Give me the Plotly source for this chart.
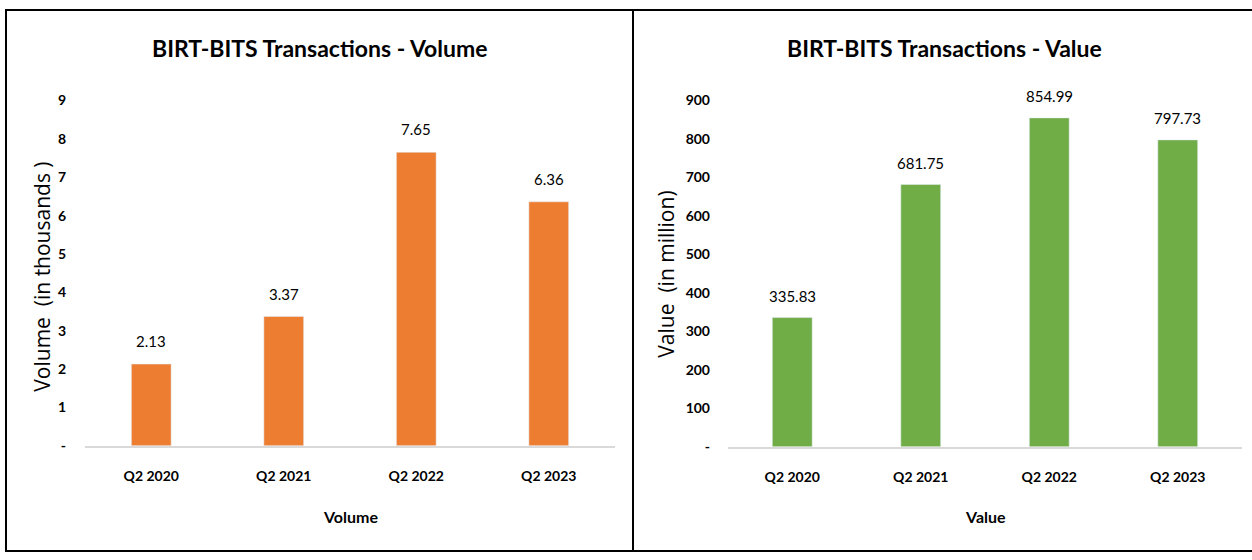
import plotly.graph_objects as go

categories = ["Q2 2020", "Q2 2021", "Q2 2022", "Q2 2023"]
volume = [2.13, 3.37, 7.65, 6.36]
value = [335.83, 681.75, 854.99, 797.73]
volume_labels = ["2.13", "3.37", "7.65", "6.36"]
value_labels = ["335.83", "681.75", "854.99", "797.73"]
vol_ticks = [0, 1, 2, 3, 4, 5, 6, 7, 8, 9]
vol_ticktext = ["-", "1", "2", "3", "4", "5", "6", "7", "8", "9"]
val_ticks = [0, 100, 200, 300, 400, 500, 600, 700, 800, 900]
val_ticktext = ["-", "100", "200", "300", "400", "500", "600", "700", "800", "900"]

W, H = 1252, 560
NARROW = "Lato, Roboto, sans-serif"
WIDE = "Open Sans, DejaVu Sans, sans-serif"
VS, VOFF = 0.969, 8.5  # observed vertical mapping of the photographed page


def px(x):
    return x / W


def py(y):
    Y = (y - VOFF) / VS
    Y = min(max(Y, 1), H - 1)
    return 1 - Y / H


fig = go.Figure()
fig.add_trace(go.Bar(x=categories, y=volume, marker_color="#ED7D31",
                     xaxis="x", yaxis="y", width=0.3, showlegend=False))
fig.add_trace(go.Bar(x=categories, y=value, marker_color="#70AD47",
                     xaxis="x2", yaxis="y2", width=0.31, showlegend=False))

annotations = []
for c, v, t in zip(categories, volume, volume_labels):
    annotations.append(dict(x=c, y=v, xref="x", yref="y", text=t, showarrow=False,
                            yanchor="middle", yshift=23,
                            font=dict(family=NARROW, size=15, color="#000")))
for c, v, t in zip(categories, value, value_labels):
    annotations.append(dict(x=c, y=v, xref="x2", yref="y2", text=t, showarrow=False,
                            yanchor="middle", yshift=22,
                            font=dict(family=NARROW, size=15, color="#000")))

annotations += [
    dict(x=px(320), y=py(47), xref="paper", yref="paper", showarrow=False,
         xanchor="center", yanchor="middle",
         text="<b>BIRT-BITS Transactions - Volume</b>",
         font=dict(family=NARROW, size=23, color="#000")),
    dict(x=px(944), y=py(47), xref="paper", yref="paper", showarrow=False,
         xanchor="center", yanchor="middle",
         text="<b>BIRT-BITS Transactions - Value</b>",
         font=dict(family=NARROW, size=23, color="#000")),
    dict(x=px(42), y=py(276), xref="paper", yref="paper", showarrow=False,
         xanchor="center", yanchor="middle",
         text="Volume  (in thousands )", textangle=-90,
         font=dict(family=WIDE, size=21, color="#000")),
    dict(x=px(666), y=py(274), xref="paper", yref="paper", showarrow=False,
         xanchor="center", yanchor="middle",
         text="Value  (in million)", textangle=-90,
         font=dict(family=WIDE, size=21, color="#000")),
    dict(x=px(350), y=py(516), xref="paper", yref="paper", showarrow=False,
         xanchor="center", yanchor="middle",
         text="<b>Volume</b>", font=dict(family=NARROW, size=16, color="#000")),
    dict(x=px(985), y=py(516), xref="paper", yref="paper", showarrow=False,
         xanchor="center", yanchor="middle",
         text="<b>Value</b>", font=dict(family=NARROW, size=16, color="#000")),
]

shapes = [
    dict(type="rect", xref="paper", yref="paper", x0=px(6), y0=py(5), x1=px(633), y1=py(557),
         line=dict(color="#000", width=2)),
    dict(type="line", xref="paper", yref="paper", x0=px(633), y0=py(8), x1=px(1252), y1=py(8),
         line=dict(color="#000", width=2)),
    dict(type="line", xref="paper", yref="paper", x0=px(633), y0=py(557), x1=px(1252), y1=py(557),
         line=dict(color="#000", width=2)),
]

tickfont = dict(family=NARROW, size=14, color="#000", weight="bold")
fig.update_layout(
    width=W, height=H, margin=dict(l=0, r=0, t=0, b=0),
    plot_bgcolor="white", paper_bgcolor="white",
    xaxis=dict(domain=[px(85), px(615)], anchor="y", showline=True, linecolor="#d9d9d9",
               linewidth=2, ticks="", tickfont=tickfont, showgrid=False,
               ticklabelstandoff=16),
    yaxis=dict(domain=[py(445), py(100)], anchor="x", range=[0, 9], tickvals=vol_ticks,
               ticktext=vol_ticktext, showgrid=False, zeroline=False, showline=False,
               tickfont=tickfont, ticklabelstandoff=18),
    xaxis2=dict(domain=[px(728), px(1242)], anchor="y2", showline=True, linecolor="#d9d9d9",
                linewidth=2, ticks="", tickfont=tickfont, showgrid=False,
                ticklabelstandoff=16),
    yaxis2=dict(domain=[py(446), py(100)], anchor="x2", range=[0, 900], tickvals=val_ticks,
                ticktext=val_ticktext, showgrid=False, zeroline=False, showline=False,
                tickfont=tickfont, ticklabelstandoff=17),
    annotations=annotations, shapes=shapes,
)

fig.write_html("out.html", config={"displayModeBar": False},
               post_script="document.body.style.margin='0';document.body.style.overflow='hidden';")
